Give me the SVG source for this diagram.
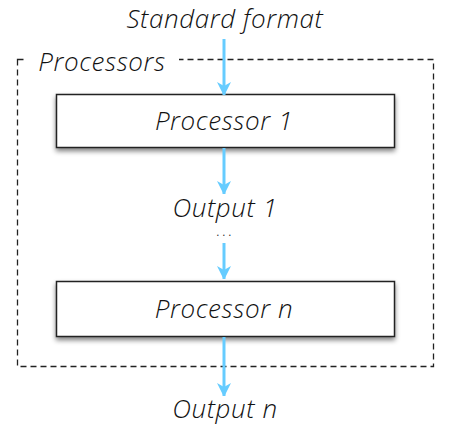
<svg xmlns="http://www.w3.org/2000/svg" width="450" height="427" viewBox="0 0 450 427">
<defs>
<style>
text{font-family:"Open Sans",Lato,"Liberation Sans",sans-serif;font-style:italic;font-weight:300;fill:#111;text-anchor:middle}
.lbl{font-size:26px;letter-spacing:0.6px}
.dots{font-size:10px;font-weight:400;letter-spacing:3.5px}
.box{fill:#fff;stroke:#222;stroke-width:1.5}
.conn{stroke:#66ccff;stroke-width:3;fill:none;marker-end:url(#ah)}
</style>
<marker id="ah" viewBox="0 0 12 14" refX="13" refY="7" markerWidth="12" markerHeight="14" markerUnits="userSpaceOnUse" orient="auto">
<path d="M0,0 L14,7 L0,14 L4,7 Z" fill="#66ccff"/>
</marker>
<filter id="sh" x="-10%" y="-20%" width="120%" height="150%">
<feGaussianBlur in="SourceAlpha" stdDeviation="2.5"/>
<feOffset dx="0" dy="3" result="b"/>
<feComponentTransfer><feFuncA type="linear" slope="0.5"/></feComponentTransfer>
<feMerge><feMergeNode/><feMergeNode in="SourceGraphic"/></feMerge>
</filter>
</defs>
<g id="group-processors">
<rect x="17.5" y="59.5" width="416" height="307" fill="none" stroke="#222" stroke-width="1.3" stroke-dasharray="6,4"/>
<rect x="27" y="52" width="152" height="20" fill="#fff"/>
<text class="lbl" x="102" y="71">Processors</text>
</g>
<g id="standard-format"><text class="lbl" x="225" y="28">Standard format</text></g>
<g id="processor-1">
<rect class="box" x="56.5" y="94.5" width="338" height="53" filter="url(#sh)"/>
<text class="lbl" x="224" y="130">Processor 1</text>
</g>
<g id="output-1"><text class="lbl" x="225" y="217">Output 1</text></g>
<g id="ellipsis"><text class="dots" x="226" y="236">...</text></g>
<g id="processor-n">
<rect class="box" x="56.5" y="281.5" width="338" height="55" filter="url(#sh)"/>
<text class="lbl" x="224" y="318">Processor n</text>
</g>
<g id="output-n"><text class="lbl" x="225" y="418">Output n</text></g>
<g id="connectors">
<line class="conn" x1="224" y1="39" x2="224" y2="95"/>
<line class="conn" x1="224" y1="148" x2="224" y2="194"/>
<line class="conn" x1="224" y1="243" x2="224" y2="279"/>
<line class="conn" x1="224" y1="337" x2="224" y2="396"/>
</g>
</svg>
